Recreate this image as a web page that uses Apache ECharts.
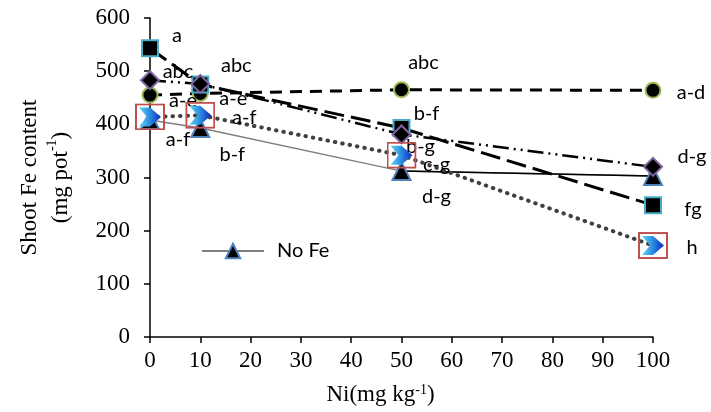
<!DOCTYPE html>
<html>
<head>
<meta charset="utf-8">
<script src="https://cdn.jsdelivr.net/npm/echarts@6/dist/echarts.min.js"></script>
<style>
html,body{margin:0;padding:0;background:#fff;}
#chart{width:711px;height:412px;}
</style>
</head>
<body>
<div id="chart"></div>
<script>
// Ni levels (mg/kg)
var niLevels = [0, 10, 50, 100];
// shoot Fe content (mg/pot)
var feSquare  = [543, 475, 393, 248];
var feDiamond = [483, 476, 381, 320];
var feCircle  = [455, 458, 465, 464];
var feChevron = [414, 417, 342, 172];
var noFe      = [408, 393, 312, 303];
// letters of significance
var lblSquare  = ['a', 'abc', 'b-f', 'fg'];
var lblDiamond = ['abc', '', 'b-g', 'd-g'];
var lblCircle  = ['a-e', 'a-e', 'abc', 'a-d'];
var lblChevron = ['', 'a-f', 'c-g', 'h'];
var lblNoFe    = ['a-f', 'b-f', 'd-g', ''];
var xTicks = [0, 10, 20, 30, 40, 50, 60, 70, 80, 90, 100];

var labelFont = 'Lato';
var axisFont = 'Liberation Serif';

// label offsets from point centre
var offSquare  = [[27,-13],[36,-19],[25,-15],[40,4]];
var offDiamond = [[28,-9],[0,0],[19,12],[39,-10]];
var offCircle  = [[33,5],[33,5],[22,-27],[38,2]];
var offChevron = [[0,0],[44,2],[35,9],[39,2]];
var offNoFe    = [[28,19],[32,26],[35,25],[0,0]];

function pts(vals, lbls, offs){
	return niLevels.map(function(x, i){
		return {
			value: [x, vals[i]],
			label: {
				show: lbls[i] !== '',
				formatter: lbls[i],
				position: 'inside',
				offset: offs[i],
				color: '#000',
				fontFamily: labelFont,
				fontSize: 20
			}
		};
	});
}

var chevronSvg = "<svg xmlns='http://www.w3.org/2000/svg' width='30' height='27' viewBox='0 0 30 27'>" +
	"<defs><linearGradient id='g' x1='0' y1='0' x2='1' y2='0'><stop offset='0' stop-color='#63d6f2'/>" +
	"<stop offset='0.5' stop-color='#2a8be0'/><stop offset='1' stop-color='#1028c0'/></linearGradient></defs>" +
	"<rect x='1' y='1' width='28' height='25' fill='none' stroke='#c0504d' stroke-width='2'/>" +
	"<path d='M4 4 L15 4 L26 13.5 L15 23 L4 23 L12 13.5 Z' fill='url(#g)'/></svg>";
var chevronSymbol = 'image://data:image/svg+xml;charset=utf-8,' + encodeURIComponent(chevronSvg);

var chart = echarts.init(document.getElementById('chart'));
chart.setOption({
	animation: false,
	grid: {left: 150, right: 58, top: 18, bottom: 75, outerBoundsMode: 'none'},
	legend: {
		data: ['No Fe'],
		left: 196,
		top: 236,
		itemWidth: 62,
		itemHeight: 18,
		itemGap: 10,
		textStyle: {fontFamily: labelFont, fontSize: 20, color: '#000', padding: [0, 0, 0, 8]}
	},
	xAxis: {
		type: 'value',
		min: 0,
		max: 100,
		interval: 10,
		name: 'Ni(mg kg{sup|-1})',
		nameLocation: 'middle',
		nameGap: 46,
		nameTextStyle: {
			fontFamily: axisFont, fontSize: 23, color: '#000', padding: [0, 42, 0, 0],
			rich: {sup: {fontFamily: axisFont, fontSize: 14, color: '#000', verticalAlign: 'top', padding: [0, 0, 10, 0]}}
		},
		axisLine: {lineStyle: {color: '#000', width: 1.5}},
		axisTick: {inside: false, length: 6, lineStyle: {color: '#000', width: 1.5}},
		axisLabel: {margin: 12, fontFamily: axisFont, fontSize: 23, color: '#000',
			formatter: function(v){ return xTicks.indexOf(v) >= 0 ? String(v) : ''; }},
		splitLine: {show: false}
	},
	yAxis: {
		type: 'value',
		min: 0,
		max: 600,
		interval: 100,
		name: 'Shoot Fe content\n(mg pot{sup|-1})',
		nameLocation: 'middle',
		nameRotate: 90,
		nameGap: 74,
		nameTextStyle: {
			fontFamily: axisFont, fontSize: 23, color: '#000', lineHeight: 31,
			rich: {sup: {fontFamily: axisFont, fontSize: 14, color: '#000', verticalAlign: 'top', padding: [0, 0, 10, 0]}}
		},
		axisLine: {show: true, lineStyle: {color: '#000', width: 1.5}},
		axisTick: {show: true, inside: false, length: 6, lineStyle: {color: '#000', width: 1.5}},
		axisLabel: {margin: 20, fontFamily: axisFont, fontSize: 23, color: '#000'},
		splitLine: {show: false}
	},
	series: [
		{
			name: 'No Fe',
			type: 'line',
			data: pts(noFe, lblNoFe, offNoFe),
			symbol: 'triangle',
			symbolSize: 18,
			lineStyle: {color: '#7f7f7f', width: 1.5},
			itemStyle: {color: '#000', borderColor: '#4f81bd', borderWidth: 2},
			z: 2
		},
		{
			name: 'noFeTail',
			type: 'line',
			data: niLevels.slice(2).map(function(x, i){ return [x, noFe[i + 2]]; }),
			symbol: 'none',
			lineStyle: {color: '#000', width: 1.5},
			z: 2
		},
		{
			name: 'circle',
			type: 'line',
			data: pts(feCircle, lblCircle, offCircle),
			symbol: 'circle',
			symbolSize: 15,
			lineStyle: {color: '#000', width: 3, type: [12, 8]},
			itemStyle: {color: '#000', borderColor: '#9bbb59', borderWidth: 2},
			z: 3
		},
		{
			name: 'square',
			type: 'line',
			data: pts(feSquare, lblSquare, offSquare),
			symbol: 'rect',
			symbolSize: 16,
			lineStyle: {color: '#000', width: 3, type: [20, 7]},
			itemStyle: {color: '#000', borderColor: '#4bacc6', borderWidth: 2},
			z: 4
		},
		{
			name: 'diamond',
			type: 'line',
			data: pts(feDiamond, lblDiamond, offDiamond),
			symbol: 'diamond',
			symbolSize: 18,
			lineStyle: {color: '#000', width: 2.5, type: [16, 5, 2, 5, 2, 5]},
			itemStyle: {color: '#000', borderColor: '#8064a2', borderWidth: 2},
			z: 5
		},
		{
			name: 'chevron',
			type: 'line',
			data: pts(feChevron, lblChevron, offChevron),
			symbol: chevronSymbol,
			symbolSize: [30, 27],
			lineStyle: {color: '#404040', width: 4, type: [0.5, 7], cap: 'round'},
			itemStyle: {color: '#404040'},
			z: 6
		}
	]
});
</script>
</body>
</html>
